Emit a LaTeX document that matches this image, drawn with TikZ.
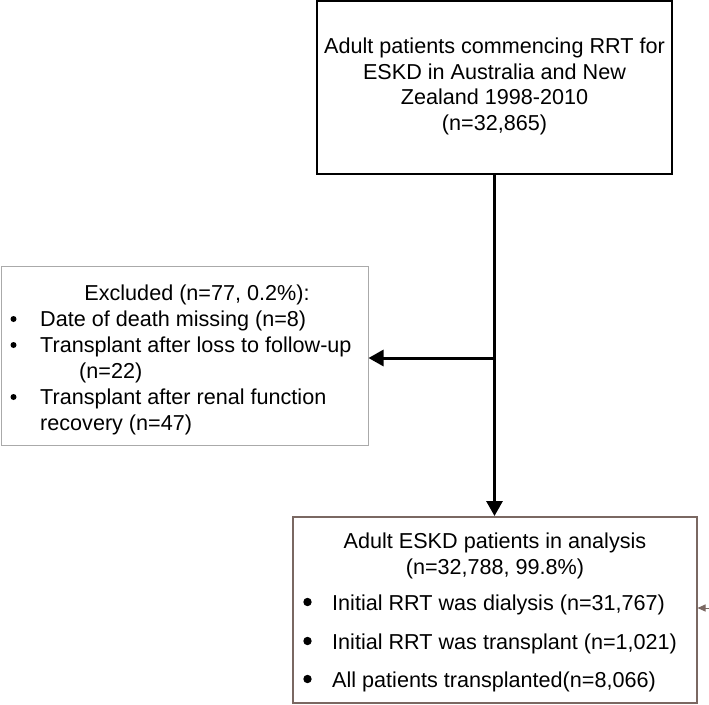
\documentclass[tikz,border=0pt]{standalone}
\usepackage{fontspec}
\setmainfont{Liberation Sans}
\usetikzlibrary{arrows.meta}

\definecolor{exclGray}{RGB}{170,170,170}
\definecolor{finalBrown}{RGB}{122,104,98}

\begin{document}
\begin{tikzpicture}[x=1pt,y=1pt,yscale=-1,xscale=1,
  txt/.style={font=\fontsize{21.6}{25.5}\selectfont,inner sep=0pt},
  flow/.style={line width=3pt,-{Triangle[length=15pt,width=16pt]}},
  box/.style={inner sep=0pt,minimum width=#1}]
\useasboundingbox (0,0) rectangle (709,704);

%Shape: Rectangle [start]
\node [box=355pt,draw,line width=1.5pt,minimum height=173pt] (start) at (494.5,87.5) {};
%Shape: Rectangle [excluded]
\node [box=367pt,draw=exclGray,line width=1pt,minimum height=179pt] (excluded) at (184.5,355.5) {};
%Shape: Rectangle [analysis]
\node [box=404pt,draw=finalBrown,line width=2pt,minimum height=186pt] (analysis) at (494.5,610) {};

%Straight Lines
\coordinate (split) at (494,358);
\draw [flow] (start.south) -- (analysis.north);
\draw [flow] (split) -- (split -| excluded.east);
%Straight Lines
\coordinate (side) at (713,608);
\draw [finalBrown,line width=1pt,-{Triangle[length=8pt,width=7pt]}] (side) -- (side -| analysis.east);

% Text Node
\node [txt,align=center] (startText) at (494.5,86.5) {Adult patients commencing RRT for\\ESKD in Australia and New\\Zealand 1998-2010\\(n=32,865)};

% Text Node
\node [txt,anchor=base] (exclTitle) at (197,300) {Excluded (n=77, 0.2\%):};
\node [txt,anchor=base west] (exclA) at (40,326.5) {Date of death missing (n=8)};
\node [txt,anchor=base west] (exclB) at (40,352.5) {Transplant after loss to follow-up};
\node [txt,anchor=base west] (exclBb) at (79,378.5) {(n=22)};
\node [txt,anchor=base west] (exclC) at (40,404.5) {Transplant after renal function};
\node [txt,anchor=base west] (exclCc) at (40,430.5) {recovery (n=47)};
\foreach \y in {319,345,397} \fill (13.5,\y) circle (3);

% Text Node
\node [txt,anchor=base] (anTitle) at (495,548.5) {Adult ESKD patients in analysis};
\node [txt,anchor=base] (anCount) at (495,574.5) {(n=32,788, 99.8\%)};
\node [txt,anchor=base west] (anA) at (332,610.5) {Initial RRT was dialysis (n=31,767)};
\node [txt,anchor=base west] (anB) at (332,649.5) {Initial RRT was transplant (n=1,021)};
\node [txt,anchor=base west] (anC) at (332,687.5) {All patients transplanted(n=8,066)};
\foreach \y in {602,641,679} \fill (307.5,\y) circle (4.2);

\end{tikzpicture}
\end{document}
